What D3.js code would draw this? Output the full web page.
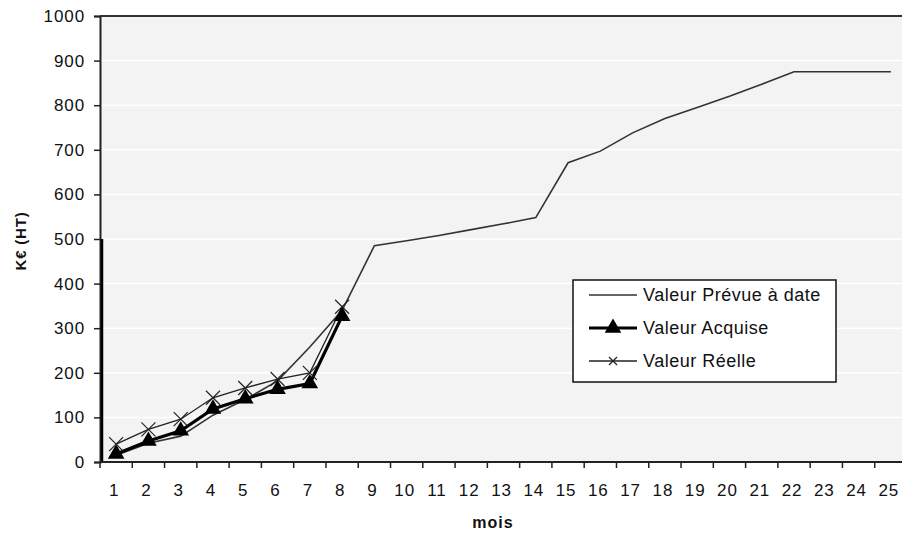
<!DOCTYPE html>
<html>
<head>
<meta charset="utf-8">
<script src="https://cdn.jsdelivr.net/npm/d3@7"></script>
<style>
  html, body { margin: 0; padding: 0; background: #fff; }
  svg { display: block; }
  text { font-family: "Liberation Sans", Arial, sans-serif; fill: #111; }
</style>
</head>
<body>
<svg id="chart" width="902" height="539"></svg>
<script>
// Months on the x axis
const months = d3.range(1, 26);
// Planned value to date (K€ HT), one value per month
const prevue = [15, 42, 58, 105, 140, 182, 258, 340, 485, 496, 508, 521, 534, 548, 671, 697, 738, 770, 795, 820, 847, 875, 875, 875, 875];
// Earned value, months 1 to 8
const acquise = [18, 47, 70, 119, 142, 163, 176, 327];
// Actual cost, months 1 to 8
const reelle = [40, 73, 96, 144, 166, 186, 200, 348];
// Y axis ticks
const yTicks = d3.range(0, 1001, 100);

const seriesNames = ["Valeur Prévue à date", "Valeur Acquise", "Valeur Réelle"];

const svg = d3.select("#chart");
const plotTop = 16, plotBottom = 462, plotLeft = 100, plotRight = 907;

const x = d3.scaleBand().domain(months).range([plotLeft, plotRight]).padding(0);
const cx = m => x(m) + x.bandwidth() / 2;
const y = d3.scaleLinear().domain([0, 1000]).range([plotBottom, plotTop]);

// plot area background
svg.append("rect")
  .attr("x", plotLeft).attr("y", plotTop)
  .attr("width", 902 - plotLeft).attr("height", plotBottom - plotTop)
  .attr("fill", "#f3f3f3");

// horizontal gridlines
svg.append("g").selectAll("line")
  .data(yTicks.filter(v => v > 0 && v < 1000))
  .join("line")
  .attr("x1", plotLeft).attr("x2", 902)
  .attr("y1", d => y(d)).attr("y2", d => y(d))
  .attr("stroke", "#ffffff").attr("stroke-width", 1.5);

// top border
svg.append("line")
  .attr("x1", plotLeft).attr("x2", 902)
  .attr("y1", plotTop).attr("y2", plotTop)
  .attr("stroke", "#333").attr("stroke-width", 2);

// y axis
const yAxis = d3.axisLeft(y).tickValues(yTicks).tickSize(6).tickPadding(9).tickFormat(d3.format("d"));
const gy = svg.append("g").attr("transform", `translate(${plotLeft},0)`).call(yAxis);
gy.select(".domain").attr("stroke", "#222").attr("stroke-width", 2);
gy.selectAll(".tick line").attr("stroke", "#222").attr("stroke-width", 1.5);
gy.selectAll(".tick text")
  .attr("font-size", 17).attr("letter-spacing", "0.9px").attr("fill", "#111")
  .attr("font-family", "'Liberation Sans', Arial, sans-serif");

// heavier lower part of the value axis
svg.append("line")
  .attr("x1", plotLeft + 2).attr("x2", plotLeft + 2)
  .attr("y1", y(500)).attr("y2", y(0))
  .attr("stroke", "#000").attr("stroke-width", 2.5);

// x axis with ticks between categories
svg.append("line")
  .attr("x1", plotLeft).attr("x2", 902)
  .attr("y1", plotBottom).attr("y2", plotBottom)
  .attr("stroke", "#222").attr("stroke-width", 2);
svg.append("g").selectAll("line")
  .data(months)
  .join("line")
  .attr("x1", d => x(d)).attr("x2", d => x(d))
  .attr("y1", plotBottom).attr("y2", plotBottom + 6)
  .attr("stroke", "#222").attr("stroke-width", 1.5);
svg.append("g").selectAll("text")
  .data(months)
  .join("text")
  .attr("x", d => cx(d) - 2).attr("y", plotBottom + 34)
  .attr("text-anchor", "middle")
  .attr("font-size", 17).attr("letter-spacing", "0.9px")
  .text(d => d);

// axis titles
svg.append("text")
  .attr("transform", `translate(26,${(y(400) + y(600)) / 2 + 2}) rotate(-90)`)
  .attr("text-anchor", "middle")
  .attr("font-size", 15).attr("font-weight", "bold").attr("letter-spacing", "0.8px")
  .text("K€ (HT)");
svg.append("text")
  .attr("x", 493).attr("y", 528)
  .attr("text-anchor", "middle")
  .attr("font-size", 16).attr("font-weight", "bold").attr("letter-spacing", "1px")
  .text("mois");

const line = d3.line().x((d, i) => cx(months[i])).y(d => y(d));

// planned value line
svg.append("path").datum(prevue)
  .attr("d", line).attr("fill", "none")
  .attr("stroke", "#333").attr("stroke-width", 1.6);

// actual cost line
svg.append("path").datum(reelle)
  .attr("d", line).attr("fill", "none")
  .attr("stroke", "#222").attr("stroke-width", 1.3);

// earned value line and markers
svg.append("path").datum(acquise)
  .attr("d", line).attr("fill", "none")
  .attr("stroke", "#000").attr("stroke-width", 3.2);

const tri = d3.symbol().type(d3.symbolTriangle).size(120);
svg.append("g").selectAll("path")
  .data(acquise)
  .join("path")
  .attr("transform", (d, i) => `translate(${cx(months[i])},${y(d)})`)
  .attr("d", tri)
  .attr("fill", "#000");

function crossMark(g, px, py, r) {
  g.append("line").attr("x1", px - r).attr("x2", px + r).attr("y1", py - r).attr("y2", py + r)
    .attr("stroke", "#222").attr("stroke-width", 1.2);
  g.append("line").attr("x1", px - r).attr("x2", px + r).attr("y1", py + r).attr("y2", py - r)
    .attr("stroke", "#222").attr("stroke-width", 1.2);
}
// actual cost markers
const gx = svg.append("g");
reelle.forEach((d, i) => crossMark(gx, cx(months[i]), y(d), 7));

// legend
const lg = svg.append("g");
lg.append("rect")
  .attr("x", 573).attr("y", 280).attr("width", 263).attr("height", 102)
  .attr("fill", "#fff").attr("stroke", "#111").attr("stroke-width", 1.5);
const rowsY = [295, 328, 361];
lg.selectAll("text")
  .data(seriesNames)
  .join("text")
  .attr("x", 643).attr("y", (d, i) => rowsY[i] + 6)
  .attr("font-size", 18).attr("letter-spacing", "0.5px")
  .text(d => d);
lg.append("line").attr("x1", 589).attr("x2", 637).attr("y1", rowsY[0]).attr("y2", rowsY[0])
  .attr("stroke", "#333").attr("stroke-width", 1.6);
lg.append("line").attr("x1", 589).attr("x2", 637).attr("y1", rowsY[1]).attr("y2", rowsY[1])
  .attr("stroke", "#000").attr("stroke-width", 3.2);
lg.append("path").attr("transform", `translate(613,${rowsY[1]})`).attr("d", tri).attr("fill", "#000");
lg.append("line").attr("x1", 589).attr("x2", 637).attr("y1", rowsY[2]).attr("y2", rowsY[2])
  .attr("stroke", "#222").attr("stroke-width", 1.3);
crossMark(lg, 613, rowsY[2], 4);
</script>
</body>
</html>
